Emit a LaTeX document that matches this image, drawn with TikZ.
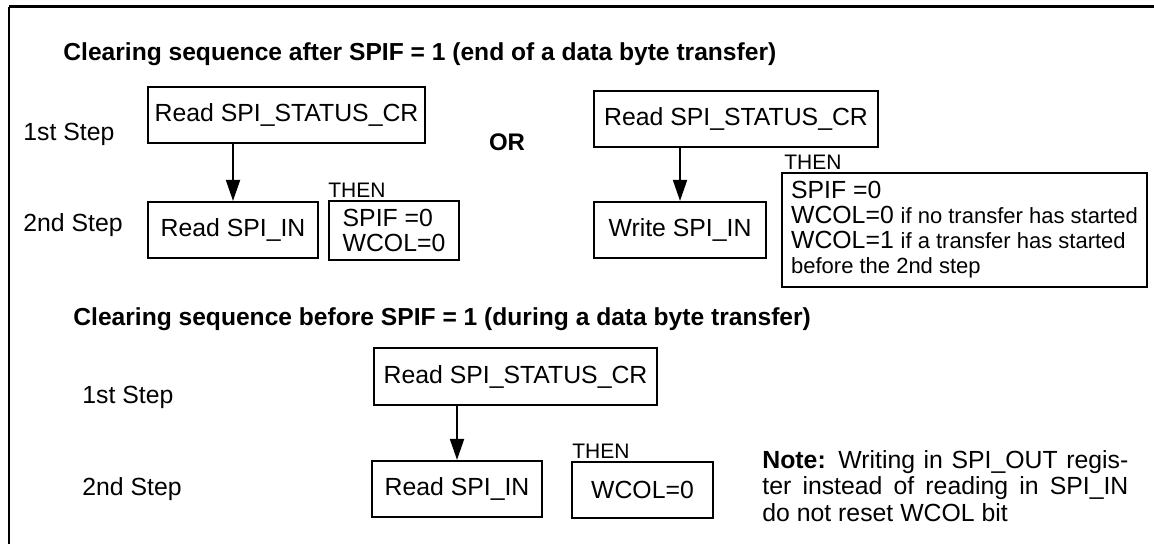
\documentclass[tikz,border=0pt]{standalone}
\usepackage{fontspec}
\setmainfont{Liberation Sans}
\usepackage{tikz}
\usetikzlibrary{arrows.meta,positioning,calc}
\newcommand{\smalltxt}[1]{{\fontsize{11}{12.5}\selectfont #1}}

\begin{document}
\begin{tikzpicture}[
    x=0.5pt, y=0.5pt,
    every node/.style={font=\fontsize{12.4}{12.5}\selectfont, inner sep=1pt},
    bx/.style={rectangle, draw, line width=1.1pt, minimum height=28pt, align=center},
    lbl/.style={anchor=base west, inner sep=0pt},
    hdr/.style={lbl, font=\fontsize{12.3}{14}\selectfont\bfseries},
    thn/.style={anchor=base west, inner sep=0pt, font=\fontsize{10.5}{12}\selectfont},
    orlbl/.style={anchor=base, inner sep=0pt, font=\fontsize{12}{14}\selectfont\bfseries},
    arr/.style={-{Triangle[length=10.5pt, width=7pt]}, line width=1pt},
    frm/.style={line width=1.5pt},
]
\useasboundingbox (0,0) rectangle (1154,-544);

% ── Frame ──
\draw[frm] (9,-7) -- (1154,-7);
\draw[line width=1.1pt] (9,-7) -- (9,-544);

% ── Sequence 1: after SPIF = 1 ──
\node[hdr] (h1) at (63,-61) {Clearing sequence after SPIF = 1 (end of a data byte transfer)};
\node[lbl] (s1a) at (23,-140.5) {1st Step};
\node[lbl] (s1b) at (23,-231.5) {2nd Step};

% left branch
\node[bx, minimum width=138.5pt] (b1) at (286.5,-115) {Read SPI\_STATUS\_CR};
\node[bx, minimum width=85pt] (b2) at (233,-230) {Read SPI\_IN};
\node[bx, minimum width=65pt, minimum height=29.5pt, align=left] (b3) at (394,-230.5) {SPIF =0\\WCOL=0};
\node[thn] (t1) at ([yshift=1pt]b3.north west) {THEN};
\draw[arr] (b2 |- b1.south) -- (b2.north);

\node[orlbl] (or) at (507,-151) {OR};

% right branch
\node[bx, minimum width=142pt] (b4) at (736,-119) {Read SPI\_STATUS\_CR};
\node[bx, minimum width=86pt] (b5) at (680,-230) {Write SPI\_IN};
\node[bx, minimum width=182.5pt, minimum height=57pt, align=left] (b6) at (964.5,-230) {SPIF =0\\
  WCOL=0 \smalltxt{if no transfer has started}\\
  WCOL=1 \smalltxt{if a transfer has started}\\
  \smalltxt{before the 2nd step}};
\node[thn] (t2) at ([xshift=1.5pt,yshift=1pt]b6.north west) {THEN};
\draw[arr] (b5 |- b4.south) -- (b5.north);

% ── Sequence 2: before SPIF = 1 ──
\node[hdr] (h2) at (73,-326) {Clearing sequence before SPIF = 1 (during a data byte transfer)};
\node[lbl] (s2a) at (82,-403.5) {1st Step};
\node[lbl] (s2b) at (82,-495.5) {2nd Step};

\node[bx, minimum width=141.5pt, minimum height=28.5pt] (b7) at (515.5,-376.5) {Read SPI\_STATUS\_CR};
\node[bx, minimum width=85pt] (b8) at (457,-489) {Read SPI\_IN};
\node[bx, minimum width=70.5pt] (b9) at (642.5,-490) {WCOL=0};
\node[thn] (t3) at ([xshift=0.5pt,yshift=1pt]b9.north west) {THEN};
\draw[arr] (b8 |- b7.south) -- (b8.north);

% note
\node[anchor=north west, inner sep=0pt, text width=183pt, align=justify,
      font=\fontsize{12.4}{13.25}\selectfont] (note) at (762,-450)
  {\textbf{Note:} Writing in SPI\_OUT regis-\linebreak ter instead of reading in SPI\_IN\linebreak do not reset WCOL bit};

\end{tikzpicture}
\end{document}
